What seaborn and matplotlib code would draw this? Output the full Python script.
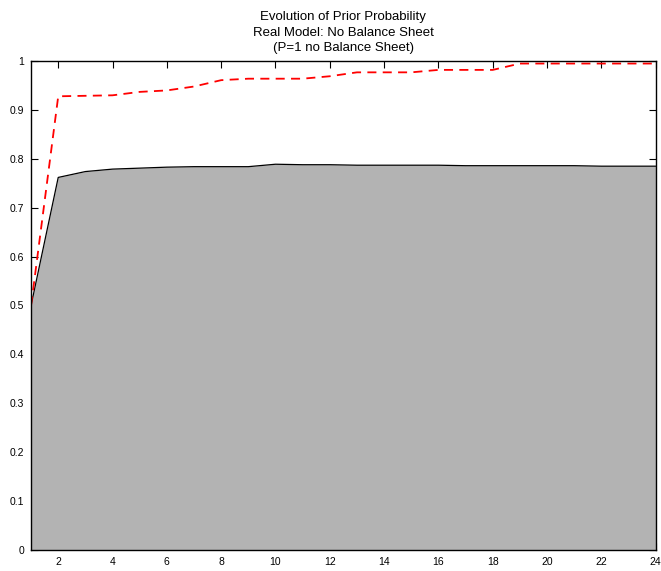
import numpy as np
import pandas as pd
import matplotlib
matplotlib.use('Agg')
import matplotlib.pyplot as plt
import seaborn as sns

# values
periods = list(range(1, 25))
prior_real = [0.500, 0.762, 0.774, 0.779, 0.781, 0.783, 0.784, 0.784, 0.784, 0.789,
              0.788, 0.788, 0.787, 0.787, 0.787, 0.787, 0.786, 0.786, 0.786, 0.786,
              0.786, 0.785, 0.785, 0.785]
prior_p1 = [0.500, 0.928, 0.929, 0.930, 0.937, 0.940, 0.948, 0.961, 0.964, 0.964,
            0.964, 0.969, 0.977, 0.977, 0.977, 0.982, 0.982, 0.982, 0.995, 0.995,
            0.995, 0.995, 0.995, 0.995]
xticks = list(range(2, 25, 2))
yticks = [0, 0.1, 0.2, 0.3, 0.4, 0.5, 0.6, 0.7, 0.8, 0.9, 1]
ytick_labels = ['0', '0.1', '0.2', '0.3', '0.4', '0.5', '0.6', '0.7', '0.8', '0.9', '1']

data = pd.DataFrame({'period': periods, 'real': prior_real, 'p1': prior_p1})

sns.set_style('white')
plt.rcParams['font.family'] = ['Liberation Sans', 'DejaVu Sans']
plt.rcParams['text.color'] = 'black'
plt.rcParams['xtick.color'] = 'black'
plt.rcParams['ytick.color'] = 'black'

fig = plt.figure(figsize=(6.61, 5.71), dpi=100)
ax = fig.add_axes([0.047, 0.037, 0.945, 0.856])

ax.fill_between(data['period'], 0, data['real'], color='#b3b3b3', linewidth=0)
sns.lineplot(data=data, x='period', y='real', color='black', linewidth=0.9, ax=ax)
sns.lineplot(data=data, x='period', y='p1', color='red', linewidth=1.3,
             linestyle=(0, (5, 3.5)), ax=ax)

ax.set_xlim(1, 24)
ax.set_ylim(0, 1)
ax.set_xticks(xticks)
ax.set_xticklabels([str(t) for t in xticks])
ax.set_yticks(yticks)
ax.set_yticklabels(ytick_labels)
ax.set_xlabel('')
ax.set_ylabel('')
ax.tick_params(direction='in', length=5, width=0.8, labelsize=7.5, top=True, right=True,
               bottom=True, left=True, pad=5, colors='black')
for s in ax.spines.values():
    s.set_color('black')
    s.set_linewidth(1.0)
ax.set_title('Evolution of Prior Probability\nReal Model: No Balance Sheet\n(P=1 no Balance Sheet)',
             fontsize=9.5, linespacing=1.4, pad=7, color='black')

fig.savefig('out.png', dpi=100)
